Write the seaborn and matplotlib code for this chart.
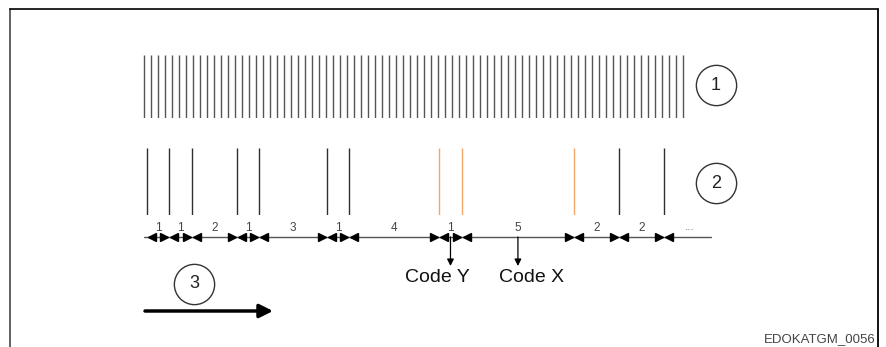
import numpy as np
import pandas as pd
import matplotlib
matplotlib.use("Agg")
import matplotlib.pyplot as plt
import seaborn as sns

# Signal diagram data
intervals = [1, 1, 2, 1, 3, 1, 4, 1, 5, 2, 2]          # gaps between pulses (clock units)
pulse_kind = ["normal"] * 7 + ["code"] * 3 + ["normal"] * 2
interval_labels = [str(v) for v in intervals]
n_clock = 78                                            # fine clock lines, row 1
circle_labels = ["1", "2", "3"]
code_names = ["Code Y", "Code X"]
code_interval_idx = [7, 8]                              # which gap each code points to
figure_id = "EDOKATGM_0056"

# layout (pixels)
W, H = 887, 347
x0, unit = 147, 22.48
clock_x0, clock_step = 144, 7.0
axis_y = 237

sns.set_theme(style="white")
plt.rcParams['font.family'] = ['Liberation Sans', 'DejaVu Sans']

fig = plt.figure(figsize=(W / 100, H / 100), dpi=100)
ax = fig.add_axes([0, 0, 1, 1])
ax.set_xlim(0, W)
ax.set_ylim(H, 0)
ax.axis("off")

# frame
ax.plot([10, 10], [9, H], color="#555555", lw=1.3)
ax.plot([10, 878], [9, 9], color="black", lw=1.2)
ax.plot([878, 878], [9, H], color="black", lw=1.3)

# row 1: clock lines
clock = pd.DataFrame({"x": clock_x0 + np.arange(n_clock) * clock_step})
ax1 = fig.add_axes([0, 1 - 118 / H, 1, 63 / H], sharex=ax)
ax1.axis("off")
sns.rugplot(data=clock, x="x", height=1, color="#555555", lw=1.6, ax=ax1)

# row 2: pulses
cum = np.concatenate([[0], np.cumsum(intervals)])
pulses = pd.DataFrame({"x": x0 + cum * unit, "kind": pulse_kind})
ax2 = fig.add_axes([0, 1 - 215 / H, 1, 67 / H], sharex=ax)
ax2.axis("off")
sns.rugplot(data=pulses, x="x", hue="kind", height=1, lw=1.5,
            palette={"normal": "#2e2e2e", "code": "#f2a866"}, legend=False, ax=ax2)
ax.set_xlim(0, W)

# dimension axis
ax.plot([144, 711], [axis_y, axis_y], color="#555555", lw=1.0)
px = pulses["x"].to_numpy()
ax.plot(px[1:] - 5, [axis_y] * (len(px) - 1), ls="none", marker=">", ms=5.5, color="black")
ax.plot(px + 5, [axis_y] * len(px), ls="none", marker="<", ms=5.5, color="black")
mids = (px[:-1] + px[1:]) / 2
for m, lab in zip(mids, interval_labels):
    ax.text(m, axis_y - 9, lab, ha="center", va="center", fontsize=8.5, color="#444444")
ax.text(px[-1] + 26, axis_y - 10, "...", ha="center", va="center", fontsize=8.5, color="#777777")

# code arrows
for name, idx, dx in zip(code_names, code_interval_idx, [-13, 14]):
    xm = mids[idx]
    ax.annotate("", xy=(xm, 266), xytext=(xm, axis_y),
                arrowprops=dict(arrowstyle="-|>", lw=0.9, color="black",
                                mutation_scale=10, shrinkA=0, shrinkB=0))
    ax.text(xm + dx, 277, name, ha="center", va="center", fontsize=14, color="#111111")

# numbered circles
for (cx, cy), lab in zip([(716, 85), (716, 183), (194, 284)], circle_labels):
    ax.plot(cx, cy, marker="o", ms=29, mfc="white", mec="#333333", mew=1.0)
    ax.text(cx, cy, lab, ha="center", va="center", fontsize=13, color="#222222")

# direction arrow
ax.annotate("", xy=(273, 311), xytext=(145, 311),
            arrowprops=dict(arrowstyle="-|>", lw=2.5, color="black",
                            mutation_scale=20, shrinkA=0, shrinkB=0))

ax.text(876, 339, figure_id, ha="right", va="center", fontsize=9.5, color="#444444")

fig.savefig("out.png", dpi=100)
